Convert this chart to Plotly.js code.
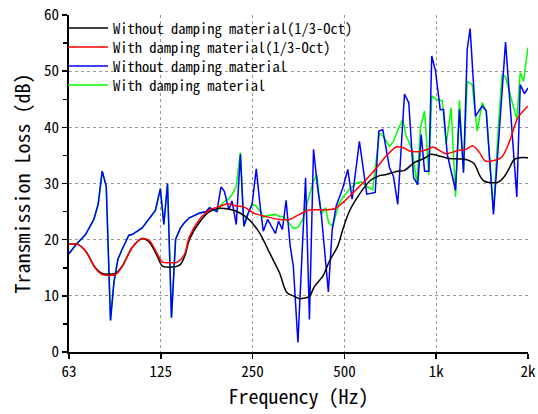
<!DOCTYPE html>
<html><head><meta charset="utf-8">
<script src="https://cdn.plot.ly/plotly-3.0.1.min.js"></script>
<style>html,body{margin:0;padding:0;background:#fff}#chart{width:538px;height:414px}</style>
</head><body><div id="chart"></div>
<script>
// Narrowband: without damping material (blue)
const freqBlue = [62.5, 65.6, 70.8, 75.4, 77.9, 80.3, 82.8, 85.5, 87.7, 90.4, 93.4, 98.2, 100.7, 108.6, 120, 124.6, 127.9, 131.5, 135.5, 139.8, 145, 149.8, 155, 167, 176, 180.6, 185, 190.8, 197, 202, 209, 214, 221, 228, 234, 241, 249, 257, 265, 271, 280, 297, 304, 313, 322, 332, 340, 352, 373, 384, 396, 409, 420, 443, 456, 470, 494, 513, 530, 560, 592, 631, 648, 668, 703, 724, 748, 787, 813, 843, 870, 893, 916, 946, 967, 995, 1031, 1057, 1087, 1157, 1192, 1229, 1264, 1292, 1345, 1415, 1459, 1541, 1688, 1838, 1886, 1948, 2000];
const tlBlue = [17.5, 19.0, 20.9, 23.6, 26.3, 32.2, 29.5, 5.6, 12.3, 16.5, 18.3, 20.8, 20.9, 22.1, 25.2, 29.1, 22.7, 30.0, 6.1, 20.1, 22.1, 23.1, 23.9, 24.7, 25.0, 25.7, 25.4, 25.0, 29.4, 28.6, 25.3, 26.9, 22.7, 35.2, 22.4, 24.5, 26.3, 32.6, 25.7, 21.5, 23.6, 21.1, 23.3, 21.8, 27.0, 18.9, 15.3, 1.7, 31.0, 5.8, 36.1, 29.0, 24.5, 10.7, 21.8, 26.0, 29.2, 32.5, 27.2, 37.5, 28.1, 28.4, 39.3, 39.6, 32.8, 31.3, 26.3, 45.9, 44.4, 31.0, 29.8, 38.7, 32.2, 32.2, 52.7, 50.0, 43.1, 43.2, 35.2, 28.8, 43.2, 31.9, 53.9, 57.6, 42.0, 43.8, 42.9, 24.5, 55.2, 27.6, 47.6, 46.0, 47.0];

// Narrowband: with damping material (green)
const freqGreen = [62.5, 65.6, 70.8, 75.4, 77.9, 80.3, 82.8, 85.5, 87.7, 90.4, 93.4, 98.2, 100.7, 108.6, 120, 124.6, 127.9, 131.5, 135.5, 139.8, 145, 149.8, 155, 167, 176, 180.6, 185, 190.8, 197, 202, 209, 214, 221, 228, 234, 241, 249, 257, 265, 271, 280, 297, 304, 313, 322, 332, 340, 352, 365, 373, 384, 394, 406, 420, 433.5, 444, 458, 479, 494, 517, 547, 567.5, 592, 619, 652, 668, 703, 724, 748, 777, 797, 813, 838, 864, 888, 916, 946, 967, 1000, 1046, 1078, 1120, 1157, 1192, 1229, 1264, 1312, 1363, 1415, 1459, 1541, 1600, 1646, 1688, 1806, 1838, 1886, 1933, 2000];
const tlGreen = [17.5, 19.0, 20.9, 23.6, 26.3, 32.2, 29.5, 5.6, 12.3, 16.5, 18.3, 20.8, 20.9, 22.1, 25.2, 29.1, 22.7, 30.0, 6.1, 20.1, 22.1, 23.1, 23.9, 24.7, 25.0, 25.7, 25.4, 25.0, 26.2, 26.8, 27.3, 28.0, 29.5, 35.5, 22.4, 24.5, 26.3, 26.0, 25.0, 24.0, 24.3, 24.5, 24.2, 24.1, 23.6, 22.7, 22.0, 22.2, 23.6, 25.5, 28.0, 30.1, 31.6, 24.5, 25.7, 23.0, 22.4, 26.3, 27.5, 28.9, 30.1, 30.3, 29.5, 28.9, 39.0, 38.5, 36.6, 37.5, 39.5, 41.4, 38.4, 37.5, 35.5, 29.8, 39.9, 42.9, 31.6, 45.6, 45.0, 44.7, 37.0, 43.5, 27.6, 44.8, 32.2, 48.2, 47.6, 39.3, 44.4, 42.9, 25.1, 40.5, 49.4, 49.0, 42.9, 41.5, 49.7, 48.2, 54.2];

// 1/3-octave: without damping material (black)
const freqOctBlack = [62.5, 66.5, 70.8, 76.3, 80.3, 88.8, 93.4, 100.7, 108.6, 114.8, 121.6, 126.6, 139.7, 145.0, 149.8, 155.3, 167.4, 180.6, 194.7, 210, 226.5, 244.2, 263.4, 284, 306.3, 323.7, 343, 356.2, 370, 384.2, 399, 424.8, 446.8, 475.7, 494, 519.6, 560.4, 604.3, 651.7, 685.5, 746.6, 785.4, 847, 915.4, 960, 1009.9, 1089, 1267, 1333, 1387, 1437, 1589, 1671, 1739, 1802, 1876, 2000];
const tlOctBlack = [19.2, 19.2, 18.0, 15.0, 14.0, 14.0, 15.3, 18.6, 20.2, 19.5, 17.1, 15.3, 15.2, 15.6, 17.1, 20.1, 23.1, 25.0, 25.6, 25.4, 24.8, 23.5, 21.2, 17.7, 14.1, 10.6, 9.9, 9.5, 9.6, 9.9, 11.7, 13.5, 16.2, 18.9, 21.8, 25.1, 28.1, 30.4, 31.4, 31.6, 32.2, 32.3, 33.7, 34.5, 35.2, 35.0, 34.5, 34.2, 33.5, 31.5, 30.4, 30.2, 31.2, 32.8, 34.3, 34.6, 34.6];

// 1/3-octave: with damping material (red)
const freqOctRed = [62.5, 66.5, 70.8, 76.3, 80.3, 88.8, 93.4, 100.7, 108.6, 114.8, 121.6, 126.6, 133.5, 139.7, 145.0, 149.8, 155.3, 167.4, 180.6, 194.7, 207.3, 220.9, 235.2, 250.4, 277, 306.3, 330.3, 356.2, 384.2, 424.8, 464, 494, 546.6, 619.6, 685.5, 739.4, 777, 817.5, 881.6, 938.6, 974.7, 1078, 1163, 1254, 1319, 1387, 1451, 1634, 1739, 1852, 2000];
const tlOctRed = [19.2, 19.2, 18.0, 14.9, 13.8, 13.8, 15.2, 18.6, 20.2, 19.8, 17.5, 16.0, 15.9, 15.9, 16.4, 17.5, 20.6, 23.6, 25.3, 25.9, 26.4, 26.0, 25.8, 24.8, 24.1, 23.6, 23.6, 24.5, 25.3, 25.3, 25.5, 26.6, 28.9, 32.0, 34.9, 36.5, 36.4, 35.8, 35.7, 36.1, 36.5, 35.3, 35.8, 36.1, 36.7, 35.5, 34.0, 34.6, 37.5, 41.7, 43.8];

const seriesNames = ['Without damping material(1/3-Oct)', 'With damping material(1/3-Oct)', 'Without damping material', 'With damping material'];
const xTickVals = [62.5, 125, 250, 500, 1000, 2000];
const xTickText = ['63', '125', '250', '500', '1k', '2k'];

const FONT = '"Noto Sans Mono CJK JP", "Noto Sans CJK JP", "DejaVu Sans Mono", monospace';
const traces = [
  {x: freqGreen, y: tlGreen, name: seriesNames[3], legend: 'legend4', mode: 'lines', line: {color: '#00ff00', width: 1.5}},
  {x: freqBlue, y: tlBlue, name: seriesNames[2], legend: 'legend3', mode: 'lines', line: {color: '#0000ff', width: 1.5}},
  {x: freqOctBlack, y: tlOctBlack, name: seriesNames[0], legend: 'legend', mode: 'lines', line: {color: '#000000', width: 1.5, shape: 'spline', smoothing: 0.8}},
  {x: freqOctRed, y: tlOctRed, name: seriesNames[1], legend: 'legend2', mode: 'lines', line: {color: '#ff0000', width: 1.5, shape: 'spline', smoothing: 0.8}}
];
const xr = [Math.log10(62.5), Math.log10(2000)];
function leg(ypos) {
  return {x: -0.013, y: ypos, xanchor: 'left', yanchor: 'middle', bgcolor: 'rgba(0,0,0,0)', borderwidth: 0,
          font: {family: FONT, size: 14.5, color: '#000'}, itemwidth: 40};
}
const layout = {
  width: 538, height: 414,
  margin: {l: 69, r: 10, t: 15, b: 62},
  paper_bgcolor: '#ffffff', plot_bgcolor: '#ffffff',
  font: {family: FONT, size: 14, color: '#000'},
  showlegend: true,
  legend: leg(0.9614), legend2: leg(0.905), legend3: leg(0.8487), legend4: leg(0.7923),
  xaxis: {
    type: 'log', range: xr, tickvals: xTickVals, ticktext: xTickText,
    ticks: 'outside', ticklen: 5, tickwidth: 1.5, tickcolor: '#000',
    showline: true, linecolor: '#000', linewidth: 2,
    showgrid: true, gridcolor: '#999', griddash: 'dot', gridwidth: 1,
    zeroline: false,
    tickfont: {family: FONT, size: 15},
    title: {text: 'Frequency (Hz)', font: {family: FONT, size: 20}, standoff: 8}
  },
  yaxis: {
    range: [0, 60], dtick: 10, tick0: 0,
    ticks: 'outside', ticklen: 5, tickwidth: 1.5, tickcolor: '#000',
    minor: {dtick: 5, ticks: 'outside', ticklen: 4, tickcolor: '#000', showgrid: false},
    showline: true, linecolor: '#000', linewidth: 2,
    showgrid: true, gridcolor: '#999', griddash: 'dot', gridwidth: 1,
    zeroline: false,
    tickfont: {family: FONT, size: 15},
    title: {text: 'Transmission Loss (dB)', font: {family: FONT, size: 20}, standoff: 8}
  },
  xaxis2: {type: 'log', range: xr, overlaying: 'x', side: 'top', tickvals: xTickVals, ticks: 'inside', ticklen: 5, tickcolor: '#000', showticklabels: false, showgrid: false, showline: true, linecolor: '#000', linewidth: 2, zeroline: false},
  yaxis2: {range: [0, 60], overlaying: 'y', side: 'right', dtick: 10, ticks: 'inside', ticklen: 5, tickcolor: '#000', minor: {dtick: 5, ticks: 'inside', ticklen: 4, tickcolor: '#000'}, showticklabels: false, showgrid: false, showline: true, linecolor: '#000', linewidth: 2, zeroline: false}
};
Plotly.newPlot('chart', traces, layout, {displayModeBar: false, staticPlot: true});
</script></body></html>
